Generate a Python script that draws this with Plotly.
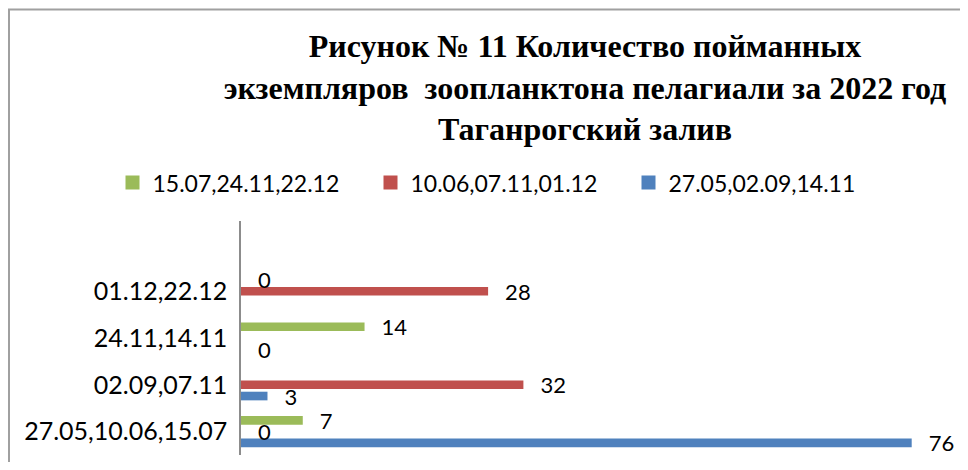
import plotly.graph_objects as go

categories = ["27.05,10.06,15.07", "02.09,07.11", "24.11,14.11", "01.12,22.12", " "]
series_names = ["27.05,02.09,14.11", "10.06,07.11,01.12", "15.07,24.11,22.12"]
blue_values = [76, 3, 0, None, None]
red_values = [0, 32, None, 28, None]
green_values = [7, None, 14, 0, None]
colors = ["#4F81BD", "#C0504D", "#9BBB59"]

title_text = ("<b>Рисунок № 11 Количество пойманных<br>"
              "экземпляров  зоопланктона пелагиали за 2022 год<br>"
              "Таганрогский залив</b>")

# the page body keeps its default 8px margin, so the figure is 16px smaller
W, H = 952, 454
PL, PT, PW, PH = 233, 213, 706, 234.5
label_font = dict(family="Lato", size=22, color="black")
pad = "  \u2009"

fig = go.Figure()
for name, vals, col in zip(series_names, [blue_values, red_values, green_values], colors):
    fig.add_trace(go.Bar(
        y=categories, x=vals, name=name, orientation="h", showlegend=False,
        legendgroup=name,
        marker=dict(color=col, line=dict(width=0)),
        text=[(pad + str(v)) if v is not None else "" for v in vals],
        textposition="outside", constraintext="none", cliponaxis=False,
        textfont=label_font, outsidetextfont=label_font,
    ))
# legend keys (square swatches like the original)
for name, col in zip(series_names, colors):
    fig.add_trace(go.Scatter(
        x=[None], y=[None], mode="markers", name=name, legendgroup=name,
        marker=dict(symbol="square", size=14, color=col), showlegend=True,
        hoverinfo="skip",
    ))

fig.update_layout(
    width=W, height=H,
    margin=dict(l=PL, r=W - PL - PW, t=PT, b=H - PT - PH, autoexpand=False),
    paper_bgcolor="white", plot_bgcolor="white",
    barmode="group", bargap=0.28, bargroupgap=0.23,
    title=dict(text=title_text, x=577 / W, xref="container", xanchor="center",
               y=1 - 49 / H, yref="container", yanchor="top",
               font=dict(family="Liberation Serif", size=32, color="black")),
    legend=dict(orientation="h", traceorder="reversed",
                x=(104.5 - PL) / PW, xanchor="left", y=1 + (PT - 153) / PH, yanchor="top",
                entrywidth=213, entrywidthmode="pixels",
                font=dict(family="Lato", size=23, color="black")),
    showlegend=True,
    xaxis=dict(range=[0, 80], visible=False, showgrid=False, zeroline=False),
    yaxis=dict(type="category", categoryorder="array", categoryarray=categories,
               range=[-0.5, 4.5], showline=True, linecolor="#8c8c8c", linewidth=1.5,
               ticks="", showgrid=False, zeroline=False, ticklabelstandoff=7,
               tickfont=dict(family="Lato", size=25, color="black")),
    shapes=[dict(type="rect", xref="paper", yref="paper",
                 x0=(1 - PL) / PW, x1=1.2, y0=-0.2, y1=1 + (PT - 1) / PH,
                 line=dict(color="#a0a0a0", width=2), layer="below")],
)

fig.write_html("out.html")
